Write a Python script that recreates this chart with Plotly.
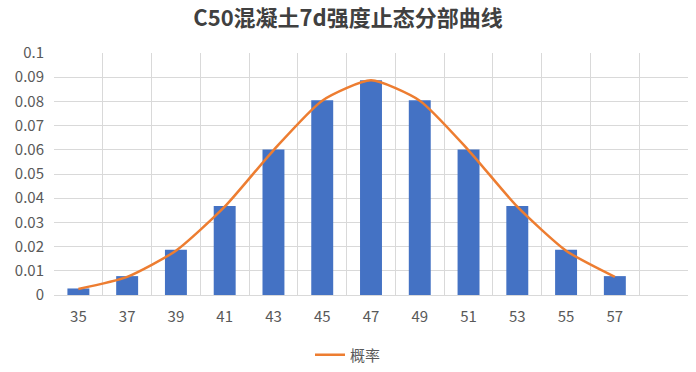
import plotly.graph_objects as go

categories = ["35", "37", "39", "41", "43", "45", "47", "49", "51", "53", "55", "57"]
bar_values = [0.0027, 0.0078, 0.0187, 0.0368, 0.0601, 0.0805, 0.0887, 0.0805, 0.0601, 0.0368, 0.0187, 0.0078]
line_values = [0.0025, 0.0075, 0.0183, 0.0365, 0.0598, 0.0803, 0.0887, 0.0803, 0.0598, 0.0365, 0.0183, 0.0075]
line_name = "概率"
title_text = "C50混凝土7d强度止态分部曲线"
y_ticks = [0, 0.01, 0.02, 0.03, 0.04, 0.05, 0.06, 0.07, 0.08, 0.09, 0.1]
y_tick_text = ["0", "0.01", "0.02", "0.03", "0.04", "0.05", "0.06", "0.07", "0.08", "0.09", "0.1"]

xs = list(range(len(categories)))

fig = go.Figure()
fig.add_trace(go.Bar(x=xs, y=bar_values, marker=dict(color="#4472C4", line=dict(width=0)),
                     width=0.45, showlegend=False, name="频数"))
fig.add_trace(go.Scatter(x=xs, y=line_values, mode="lines", name=line_name,
                         line=dict(color="#ED7D31", width=2.5, shape="spline", smoothing=0.6)))

font_family = "Noto Sans CJK SC, Liberation Sans, sans-serif"
fig.update_layout(
    width=696, height=372,
    margin=dict(l=54, r=8, t=53, b=77),
    paper_bgcolor="white", plot_bgcolor="white",
    font=dict(family=font_family, color="#595959", size=15),
    title=dict(text="<b>" + title_text + "</b>", x=0.5, xref="container", xanchor="center",
               y=1 - 18 / 372, yref="container", yanchor="middle",
               font=dict(size=22, color="#404040", family=font_family)),
    legend=dict(orientation="h", xref="container", x=0.5, xanchor="center",
                yref="container", y=17 / 372, yanchor="middle",
                font=dict(size=15, color="#595959")),
    bargap=0.55,
)
fig.update_xaxes(range=[-0.5, 12.5], tickmode="array", tickvals=xs, ticktext=categories,
                 showgrid=False, zeroline=False, showline=True, linecolor="#d9d9d9", linewidth=1,
                 mirror=False, ticks="", ticklabelstandoff=8,
                 minor=dict(tick0=-0.5, dtick=1, showgrid=True, gridcolor="#d9d9d9", gridwidth=1),
                 tickfont=dict(size=15, color="#595959"))
fig.update_yaxes(range=[0, 0.1], tickmode="array", tickvals=y_ticks, ticktext=y_tick_text,
                 showgrid=True, gridcolor="#d9d9d9", gridwidth=1, zeroline=False,
                 showline=False, ticks="", ticklabelstandoff=9,
                 tickfont=dict(size=15, color="#595959"))

fig.write_html("out.html", config={"displayModeBar": False},
               post_script="document.body.style.margin='0';")
